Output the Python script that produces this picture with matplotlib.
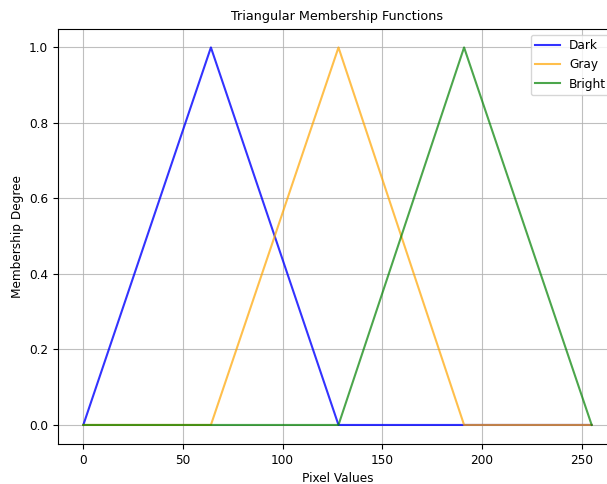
import matplotlib
matplotlib.use("Agg")
import matplotlib.pyplot as plt

# Breakpoints of the three membership functions (pixel value, degree)
dark_x = [0, 64, 128, 255]
dark_y = [0, 1, 0, 0]
gray_x = [0, 64, 128, 191, 255]
gray_y = [0, 0, 1, 0, 0]
bright_x = [0, 128, 191, 255]
bright_y = [0, 0, 1, 0]

plt.rcParams['font.size'] = 8.7

fig = plt.figure(figsize=(6.07, 4.84), dpi=100)
# the right side of the axes is cut off by the figure edge, as in the screenshot
ax = fig.add_axes([0.0954, 0.0830, 0.9212, 0.8580])

ax.plot(dark_x, dark_y, color='blue', alpha=0.8, label='Dark')
ax.plot(gray_x, gray_y, color='orange', alpha=0.7, label='Gray')
ax.plot(bright_x, bright_y, color='green', alpha=0.7, label='Bright')

ax.set_title('Triangular Membership Functions', fontsize=9.2)
ax.set_xlabel('Pixel Values')
ax.set_ylabel('Membership Degree')
ax.legend()
ax.grid(True, alpha=0.8)

plt.savefig('out.png', dpi=100)
